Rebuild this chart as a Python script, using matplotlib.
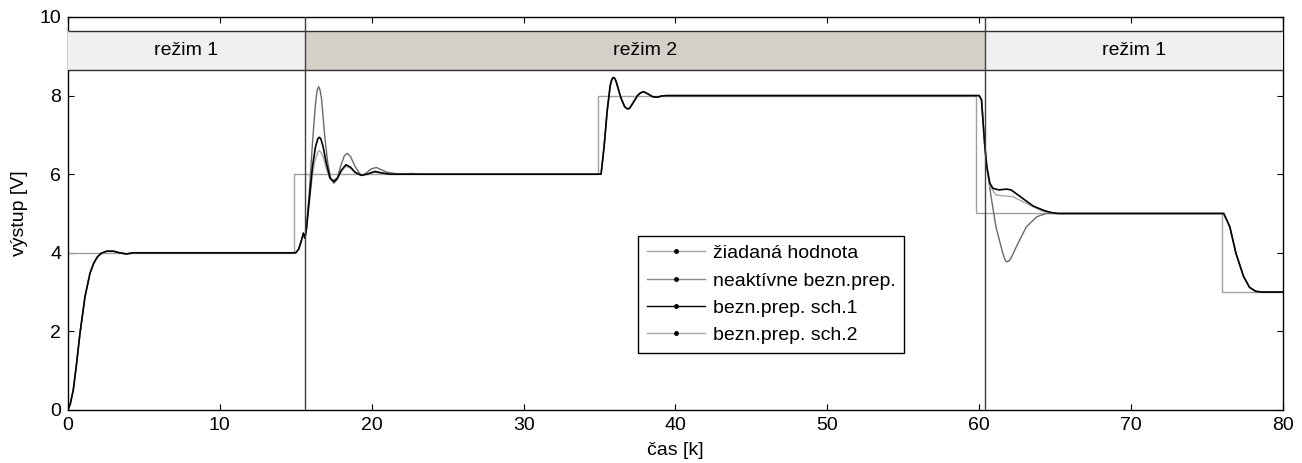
import matplotlib.pyplot as plt
from matplotlib.lines import Line2D
from matplotlib.patches import Rectangle
import numpy as np

plt.rcParams.update({'font.family': ['Liberation Sans', 'DejaVu Sans'],
                     'font.size': 14})

# setpoint (step changes)
ref_k = [0, 14.9, 34.9, 59.8, 76.0, 80.0]
ref_y = [4, 6, 8, 5, 3, 3]

# start-up, identical for all runs (rezim 1)
start_k = [0, 0.15, 0.35, 0.57, 0.79, 1.12, 1.45, 1.7, 1.95, 2.2, 2.55, 3.0, 3.4, 3.85, 4.3, 15.0,
           15.2, 15.4, 15.5, 15.6, 15.7]
start_y = [0, 0.15, 0.51, 1.19, 1.95, 2.88, 3.48, 3.74, 3.9, 3.99, 4.04, 4.04, 4.0, 3.97, 4.0, 4.0,
           4.1, 4.35, 4.5, 4.37, 4.6]

# transient after switching to rezim 2
neak_k1 = [15.9, 16.1, 16.3, 16.4, 16.5, 16.6, 16.7, 16.9, 17.1, 17.3, 17.5, 17.7, 17.95, 18.2,
           18.4, 18.6, 18.9, 19.2, 19.4, 19.7, 20.0, 20.3, 20.6, 21.0, 21.5, 22.0, 22.6, 23.2, 35.1]
neak_y1 = [5.6, 6.8, 7.8, 8.12, 8.23, 8.14, 7.9, 7.0, 6.3, 5.9, 5.77, 5.85, 6.2, 6.47,
           6.53, 6.45, 6.2, 6.02, 5.97, 6.05, 6.14, 6.17, 6.12, 6.05, 6.02, 6.0, 6.02, 6.0, 6.0]
sch1_k1 = [15.9, 16.1, 16.3, 16.45, 16.55, 16.65, 16.8, 17.0, 17.25, 17.5, 17.75, 18.0, 18.3,
           18.6, 18.9, 19.3, 19.7, 20.2, 20.7, 21.2, 22.0, 35.1]
sch1_y1 = [5.4, 6.2, 6.7, 6.9, 6.94, 6.9, 6.7, 6.3, 5.9, 5.81, 5.9, 6.1, 6.24,
           6.18, 6.05, 5.97, 6.0, 6.07, 6.03, 6.0, 6.0, 6.0]
sch2_k1 = [15.9, 16.1, 16.3, 16.45, 16.55, 16.65, 16.8, 17.0, 17.25, 17.5, 17.75, 18.0, 18.3,
           18.6, 18.9, 19.3, 19.7, 20.2, 20.7, 21.2, 22.0, 35.1]
sch2_y1 = [5.3, 6.0, 6.4, 6.56, 6.6, 6.56, 6.45, 6.15, 5.9, 5.85, 5.92, 6.07, 6.2,
           6.15, 6.04, 5.98, 6.0, 6.05, 6.02, 6.0, 6.0, 6.0]

# step 6 -> 8, identical for all runs
mid_k = [35.3, 35.5, 35.7, 35.8, 35.9, 36.0, 36.1, 36.4, 36.65, 36.8, 36.9, 37.0, 37.15, 37.5,
         37.7, 37.9, 38.2, 38.5, 38.8, 39.1, 39.4, 60.0, 60.15, 60.37, 60.5]
mid_y = [6.7, 7.6, 8.25, 8.4, 8.46, 8.44, 8.35, 7.95, 7.72, 7.67, 7.66, 7.69, 7.78, 8.0,
         8.07, 8.1, 8.04, 7.97, 7.96, 7.99, 8.0, 8.0, 7.89, 6.7, 6.19]

# transient after switching back to rezim 1
neak_k2 = [60.75, 61.1, 61.55, 61.7, 61.8, 61.95, 62.1, 62.45, 63.1, 63.8, 64.4, 65.0, 76.1]
neak_y2 = [5.5, 4.66, 3.99, 3.82, 3.77, 3.79, 3.87, 4.16, 4.66, 4.92, 5.0, 5.0, 5.0]
sch1_k2 = [60.7, 60.9, 61.3, 61.8, 62.1, 62.7, 63.55, 64.3, 64.8, 65.2, 76.1]
sch1_y2 = [5.77, 5.64, 5.6, 5.62, 5.6, 5.43, 5.19, 5.07, 5.02, 5.0, 5.0]
sch2_k2 = [60.7, 61.1, 61.6, 62.2, 63.3, 64.1, 65.0, 76.1]
sch2_y2 = [5.7, 5.47, 5.45, 5.43, 5.22, 5.07, 5.0, 5.0]

# final step 5 -> 3, identical for all runs
end_k = [76.5, 76.9, 77.4, 77.8, 78.2, 78.6, 80.0]
end_y = [4.66, 3.99, 3.4, 3.12, 3.02, 3.0, 3.0]

modes = ['režim 1', 'režim 2', 'režim 1']
mode_edges = [0, 15.6, 60.4, 80]
mode_colors = ['#f0f0f0', '#d4d0c8', '#f0f0f0']


def build(k1, y1, k2, y2):
    k = start_k + k1 + mid_k + k2 + end_k
    y = start_y + y1 + mid_y + y2 + end_y
    return np.array(k), np.array(y)


fig = plt.figure(figsize=(13.02, 4.63), dpi=100)
ax = fig.add_axes([0.0522, 0.1145, 0.9332, 0.8488])

ax.step(ref_k, ref_y, where='post', color='#a0a0a0', lw=1.0)
k, y = build(neak_k1, neak_y1, neak_k2, neak_y2)
ax.plot(k, y, color='#6a6a6a', lw=1.0)
k, y = build(sch2_k1, sch2_y1, sch2_k2, sch2_y2)
ax.plot(k, y, color='#a8a8a8', lw=1.0)
k, y = build(sch1_k1, sch1_y1, sch1_k2, sch1_y2)
ax.plot(k, y, color='black', lw=1.2)

# mode band along the top
for i in range(len(modes)):
    x0, x1 = mode_edges[i], mode_edges[i + 1]
    ax.add_patch(Rectangle((x0, 8.65), x1 - x0, 1.0, facecolor=mode_colors[i],
                           edgecolor='none', zorder=3))
    ax.text(0.5 * (x0 + x1), 9.15, modes[i], ha='center', va='center', zorder=4)
ax.hlines([8.65, 9.65], 0, 80, color='#303030', lw=1.0, zorder=4)
for xv in mode_edges[1:-1]:
    ax.axvline(xv, color='#404040', lw=1.0, zorder=5)

ax.set_xlim(0, 80)
ax.set_ylim(0, 10)
ax.set_xticks(np.arange(0, 81, 10))
ax.set_yticks(np.arange(0, 11, 2))
ax.tick_params(direction='in', top=True, right=True, length=4, width=0.8, pad=5)
for s in ax.spines.values():
    s.set_linewidth(1.0)
ax.set_xlabel('čas [k]', labelpad=6)
ax.set_ylabel('výstup [V]', labelpad=8)

handles = [
    Line2D([], [], color='#a0a0a0', lw=1.0, marker='.', markersize=5, mfc='black', mec='black'),
    Line2D([], [], color='#8a8a8a', lw=1.0, marker='.', markersize=5, mfc='black', mec='black'),
    Line2D([], [], color='black', lw=1.0, marker='.', markersize=5, mfc='black', mec='black'),
    Line2D([], [], color='#a8a8a8', lw=1.0, marker='.', markersize=5, mfc='black', mec='black'),
]
labels = ['žiadaná hodnota', 'neaktívne bezn.prep.', 'bezn.prep. sch.1', 'bezn.prep. sch.2']
leg = ax.legend(handles, labels, loc='upper left', bbox_to_anchor=(0.469, 0.443),
                fancybox=False, edgecolor='black', framealpha=1, handlelength=3.0,
                labelspacing=0.5, borderpad=0.45, handletextpad=0.4, borderaxespad=0)
leg.get_frame().set_linewidth(1.0)

plt.savefig('out.png', dpi=100)
plt.close()
